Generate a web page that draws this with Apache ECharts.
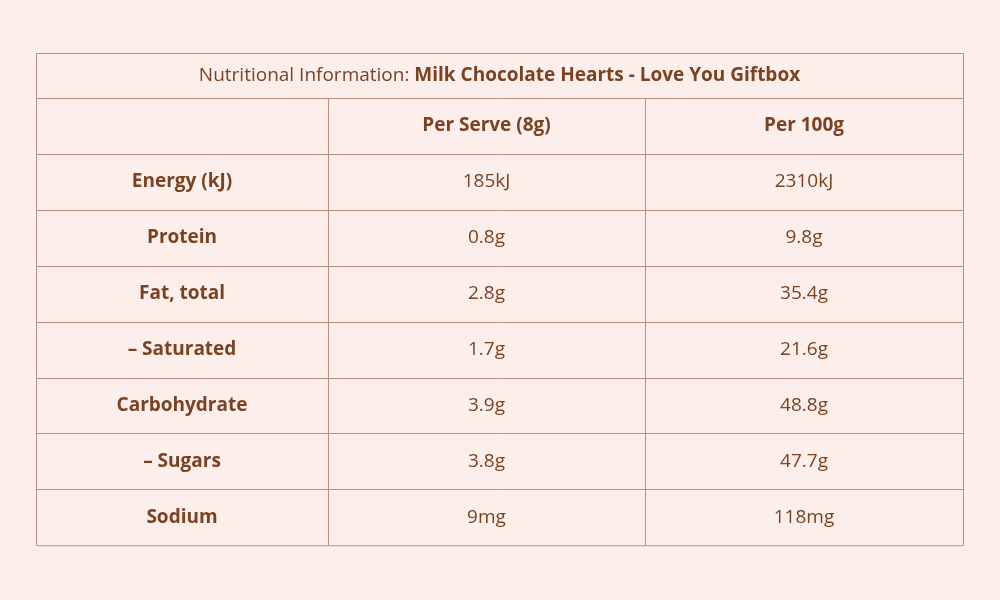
<!DOCTYPE html>
<html>
<head>
<meta charset="utf-8">
<script src="https://cdn.jsdelivr.net/npm/echarts@6/dist/echarts.min.js"></script>
<style>
  html, body { margin: 0; padding: 0; background: #fcefeb; }
  #main { width: 1000px; height: 600px; }
</style>
</head>
<body>
<div id="main"></div>
<script>
var titleLabel = 'Nutritional Information: '
var titleProduct = 'Milk Chocolate Hearts - Love You Giftbox'
var columns = ['', 'Per Serve (8g)', 'Per 100g']
var nutrients = ['Energy (kJ)', 'Protein', 'Fat, total', '\u2013 Saturated', 'Carbohydrate', '\u2013 Sugars', 'Sodium']
var perServe = ['185kJ', '0.8g', '2.8g', '1.7g', '3.9g', '3.8g', '9mg']
var per100g = ['2310kJ', '9.8g', '35.4g', '21.6g', '48.8g', '47.7g', '118mg']

var myChart = echarts.init(document.getElementById('main'))

var tLeft = 36, tRight = 963, tTop = 53
var titleH = 45, rowH = 55.9
var colX = [36, 328, 645, 963]
var lineColor = '#b98f80'
var textColor = '#7b4222'
var font = '"Open Sans", sans-serif'

var els = []
var tBottom = tTop + titleH + rowH * (nutrients.length + 1)

// outer border
els.push({ type: 'rect', shape: { x: tLeft + 0.5, y: tTop + 0.5, width: tRight - tLeft, height: tBottom - tTop },
  style: { fill: 'none', stroke: lineColor, lineWidth: 1 } })

// horizontal lines
for (let i = 0; i <= nutrients.length; i++) {
  let y = Math.round(tTop + titleH + rowH * i) + 0.5
  els.push({ type: 'line', shape: { x1: tLeft, y1: y, x2: tRight, y2: y }, style: { stroke: lineColor, lineWidth: 1 } })
}
// vertical lines
for (let c = 1; c < colX.length - 1; c++) {
  els.push({ type: 'line', shape: { x1: colX[c] + 0.5, y1: tTop + titleH, x2: colX[c] + 0.5, y2: tBottom },
    style: { stroke: lineColor, lineWidth: 1 } })
}

// title
els.push({ type: 'text', x: (tLeft + tRight) / 2, y: tTop + titleH / 2,
  style: { text: '{n|' + titleLabel + '}{b|' + titleProduct + '}', align: 'center', verticalAlign: 'middle',
    rich: {
      n: { fontFamily: font, fontSize: 19, fill: textColor, fontWeight: 'normal' },
      b: { fontFamily: font, fontSize: 19, fill: textColor, fontWeight: 'bold' }
    } } })

function cell(text, col, row, bold) {
  els.push({ type: 'text', x: (colX[col] + colX[col + 1]) / 2, y: tTop + titleH + rowH * row + rowH / 2,
    style: { text: text, align: 'center', verticalAlign: 'middle', fontFamily: font, fontSize: 19,
      fontWeight: bold ? 'bold' : 'normal', fill: textColor } })
}

columns.forEach(function (c, i) { if (c) cell(c, i, 0, true) })
nutrients.forEach(function (n, i) {
  cell(n, 0, i + 1, true)
  cell(perServe[i], 1, i + 1, false)
  cell(per100g[i], 2, i + 1, false)
})

myChart.setOption({
  backgroundColor: '#fcefeb',
  graphic: { elements: els }
})
</script>
</body>
</html>
